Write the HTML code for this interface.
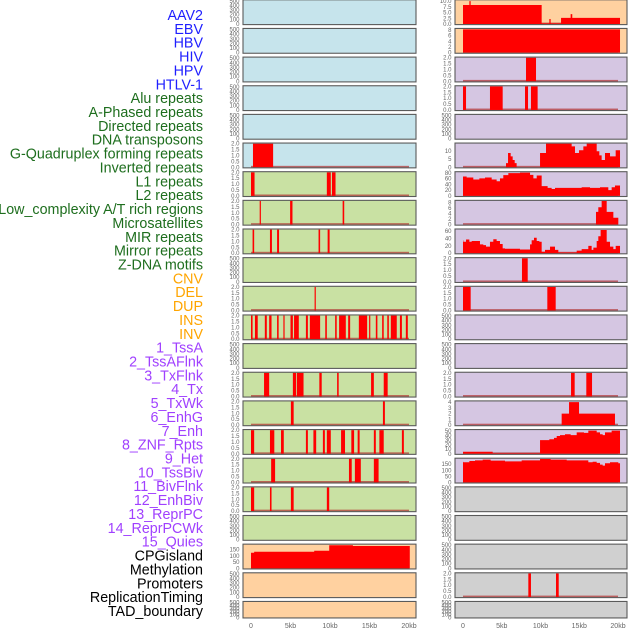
<!DOCTYPE html>
<html><head><meta charset="utf-8">
<style>
html,body{margin:0;padding:0;background:#fff;width:630px;height:630px;overflow:hidden}
svg{display:block}
</style></head>
<body>
<svg id="chart" width="630" height="630" viewBox="0 0 630 630" xmlns="http://www.w3.org/2000/svg"></svg>
<script>
// ---- labels ----
const trackLabels = ["AAV2","EBV","HBV","HIV","HPV","HTLV-1","Alu repeats","A-Phased repeats","Directed repeats","DNA transposons","G-Quadruplex forming repeats","Inverted repeats","L1 repeats","L2 repeats","Low_complexity A/T rich regions","Microsatellites","MIR repeats","Mirror repeats","Z-DNA motifs","CNV","DEL","DUP","INS","INV","1_TssA","2_TssAFlnk","3_TxFlnk","4_Tx","5_TxWk","6_EnhG","7_Enh","8_ZNF_Rpts","9_Het","10_TssBiv","11_BivFlnk","12_EnhBiv","13_ReprPC","14_ReprPCWk","15_Quies","CPGisland","Methylation","Promoters","ReplicationTiming","TAD_boundary"];
const labelGroups = ["virus","virus","virus","virus","virus","virus","repeat","repeat","repeat","repeat","repeat","repeat","repeat","repeat","repeat","repeat","repeat","repeat","repeat","sv","sv","sv","sv","sv","chrom","chrom","chrom","chrom","chrom","chrom","chrom","chrom","chrom","chrom","chrom","chrom","chrom","chrom","chrom","other","other","other","other","other"];
const xTickKb = [0,5,10,15,20];
const xTickLabels = ["0","5kb","10kb","15kb","20kb"];
const emptyTicks = [0,100,200,300,400,500];
const binaryTicks = [0,0.5,1.0,1.5,2.0];

// ---- column 1 bars (kb intervals) ----
const c1r5Bars = [[0.25,2.8]];
const c1r6Bars = [[0,0.45],[9.6,10.1],[10.25,10.7]];
const c1r7Bars = [[1.1,1.25],[4.95,5.25],[11.6,11.8]];
const c1r8Bars = [[0.2,0.4],[2.4,2.65],[3.3,3.55],[8.55,8.75],[9.7,9.95]];
const c1r10Bars = [[8.05,8.2]];
const c1r11Bars = [[0,0.2],[0.5,0.85],[1.75,2.0],[2.3,2.6],[3.3,3.5],[4.1,4.25],[5.0,5.3],[5.45,6.05],[6.95,7.2],[7.45,8.75],[9.4,9.6],[10.65,10.85],[11.15,12.0],[12.3,12.55],[13.65,14.7],[14.95,15.1],[15.8,16.0],[16.6,16.8],[17.25,17.45],[17.7,18.45],[18.85,19.1],[19.6,19.85]];
const c1r13Bars = [[1.65,2.3],[5.3,5.7],[5.8,6.65],[8.65,8.95],[10.9,11.1],[15.2,15.55],[16.8,17.3]];
const c1r14Bars = [[5.05,5.4],[16.7,16.95]];
const c1r15Bars = [[0,0.4],[2.4,2.95],[3.8,4.15],[6.95,7.2],[7.9,8.25],[9.1,9.35],[9.6,10.1],[11.4,11.9],[12.7,13.05],[13.5,13.75],[15.55,15.8],[16.25,16.8],[19.1,19.35]];
const c1r16Bars = [[2.55,3.05],[12.4,12.75],[13.15,13.9],[15.55,16.15]];
const c1r17Bars = [[0,0.4],[2.4,2.6],[5.05,5.4],[9.6,9.9]];
// column 1 step series
const c1r19Edges = [0,0.4,6.0,8.0,9.9,12.9,20.1];
const c1r19Vals = [126,134,134,142,186,180];
const c1r19Ticks = [0,50,100,150];

// ---- column 2 ----
const c2r0Edges = [0,0.82,0.99,10.15,11.14,11.31,12.65,13.89,14.1,20.26];
const c2r0Vals = [8.3,10,8.3,0.3,2.2,0.3,2.7,4.3,2.7];
const c2r0Ticks = [0,2.5,5.0,7.5,10.0];
const c2r1Edges = [0,20.26];
const c2r1Vals = [8.2];
const c2r1Ticks = [0,2,4,6,8];
const c2r2Bars = [[8.13,9.42]];
const c2r3Bars = [[0,0.39],[3.48,5.12],[8.0,8.39],[8.77,9.63]];
const c2r5Edges = [0,5.55,5.81,6.15,6.41,6.67,6.92,9.94,10.71,14.02,14.45,14.97,15.53,15.96,17.25,17.59,17.89,18.32,18.97,19.70,20.26];
const c2r5Vals = [0,2.6,8.9,6.8,4.5,2.6,0,8.9,16,13,8.9,10.6,13,16,10,7.4,4.5,8.9,6.8,10.6];
const c2r5Ticks = [0,5,10];
const c2r6Edges = [0,0.47,1.33,2.11,2.84,3.70,4.34,4.77,5.20,5.85,7.35,8.65,9.08,9.51,10.15,10.92,11.44,11.87,15.31,16.39,17.68,18.75,19.18,19.61,20.26];
const c2r6Vals = [67.6,64,57,61,64,57,51,61,72,79,81,73,61,71,34,28,24,28,30,28,30,20,30,36];
const c2r6Ticks = [0,20,40,60,80];
const c2r7Edges = [0,17.16,17.46,17.89,18.54,19.40,20.04];
const c2r7Vals = [0,4.6,6.3,8.6,4.6,2.5];
const c2r7Ticks = [0,2,4,6,8];
const c2r8Edges = [0,0.04,0.39,0.82,1.12,2.19,2.62,2.97,3.48,3.91,4.34,4.77,5.12,5.42,7.35,8.65,8.86,9.16,9.51,9.85,10.15,10.58,11.23,11.87,12.30,14.67,15.31,16.17,16.60,16.82,17.25,17.46,17.76,18.54,18.97,19.40,19.70,20.26];
const c2r8Vals = [35,31,37,31,33,24,22,18,31,38,33,25,13,12,10,24,35,42,33,31,4,9,18,9,2,7,11,20,9,15,33,46,63,31,18,11,20];
const c2r8Ticks = [0,20,40,60];
const c2r9Bars = [[7.61,8.35]];
const c2r10Bars = [[0,0.99],[10.88,11.96]];
const c2r13Bars = [[13.94,14.41],[15.91,16.65]];
const c2r14Edges = [0,12.73,13.68,14.97,19.61,20.1];
const c2r14Vals = [0,2,4,2,0];
const c2r14Ticks = [0,1,2,3,4];
const c2r15Edges = [0,3.83,9.94,11.14,11.74,12.09,12.52,13.16,13.89,14.67,15.61,16.17,17.25,17.68,18.02,18.32,19.18,20.26];
const c2r15Vals = [4.3,1.4,30,32,35,39,41,43,41,47,46,51,47,43,41,47,51];
const c2r15Ticks = [0,10,20,30,40,50];
const c2r16Edges = [0,0.04,0.82,1.55,2.54,3.57,5.42,7.57,9.94,11.31,13.38,16.17,16.73,17.25,17.68,18.02,18.32,18.97,20.04,20.26];
const c2r16Vals = [171,166,177,182,188,180,174,182,193,188,182,166,171,161,147,139,158,166,158];
const c2r16Ticks = [0,50,100,150];
const c2r20Bars = [[8.43,8.77],[12.0,12.35]];

const NS = "http://www.w3.org/2000/svg";
const svg = document.getElementById("chart");
function mk(tag, attrs, parent){
  const e = document.createElementNS(NS, tag);
  for (const k in attrs) e.setAttribute(k, attrs[k]);
  (parent||svg).appendChild(e);
  return e;
}
const groupColor = {virus:"#1f1fff", repeat:"#1e6e1e", sv:"#ffa500", chrom:"#a040ff", other:"#000"};

// left labels
trackLabels.forEach((t,i)=>{
  const el = mk("text",{x:203,y:15+i*13.86+5,"text-anchor":"end","font-family":"Liberation Sans, sans-serif","font-size":"14.3",fill:groupColor[labelGroups[i]]});
  el.textContent = t;
  
  
});

const cols = [
  {left:243,right:416,x0:251,pxPerKb:7.9},
  {left:455,right:627,x0:463,pxPerKb:7.75}
];
function rowGeom(r){ const top=-0.2+r*28.65; const h = r===21?16.5:24.8; return {top, h, bottom: top+h}; }

const BLUE="#c6e4ec", GREEN="#c9e1a3", ORANGE="#ffd1a0", LAV="#d5c6e2", GRAY="#d0d0d0";
const panels = [];
function P(col,row,name,bg,kind,a,b,ticks,dmax){ panels.push({col,row,name,bg,kind,a,b,ticks,dmax}); }
["aav2","ebv","hbv","hiv","hpv"].forEach((n,i)=>P(0,i,n,BLUE,"empty"));
P(0,5,"htlv-1",BLUE,"bars",c1r5Bars);
P(0,6,"alu-repeats",GREEN,"bars",c1r6Bars);
P(0,7,"a-phased-repeats",GREEN,"bars",c1r7Bars);
P(0,8,"directed-repeats",GREEN,"bars",c1r8Bars);
P(0,9,"dna-transposons",GREEN,"empty");
P(0,10,"g-quadruplex",GREEN,"bars",c1r10Bars);
P(0,11,"inverted-repeats",GREEN,"bars",c1r11Bars);
P(0,12,"l1-repeats",GREEN,"empty");
P(0,13,"l2-repeats",GREEN,"bars",c1r13Bars);
P(0,14,"low-complexity",GREEN,"bars",c1r14Bars);
P(0,15,"microsatellites",GREEN,"bars",c1r15Bars);
P(0,16,"mir-repeats",GREEN,"bars",c1r16Bars);
P(0,17,"mirror-repeats",GREEN,"bars",c1r17Bars);
P(0,18,"z-dna-motifs",GREEN,"empty");
P(0,19,"cnv",ORANGE,"step",c1r19Edges,c1r19Vals,c1r19Ticks,190);
P(0,20,"del",ORANGE,"empty");
P(0,21,"dup",ORANGE,"empty");
P(1,0,"ins",ORANGE,"step",c2r0Edges,c2r0Vals,c2r0Ticks,10.3);
P(1,1,"inv",ORANGE,"step",c2r1Edges,c2r1Vals,c2r1Ticks,8.3);
P(1,2,"tssa",LAV,"bars",c2r2Bars);
P(1,3,"tssaflnk",LAV,"bars",c2r3Bars);
P(1,4,"txflnk",LAV,"empty");
P(1,5,"tx",LAV,"step",c2r5Edges,c2r5Vals,c2r5Ticks,14.7);
P(1,6,"txwk",LAV,"step",c2r6Edges,c2r6Vals,c2r6Ticks,82);
P(1,7,"enhg",LAV,"step",c2r7Edges,c2r7Vals,c2r7Ticks,8.6);
P(1,8,"enh",LAV,"step",c2r8Edges,c2r8Vals,c2r8Ticks,64);
P(1,9,"znf-rpts",LAV,"bars",c2r9Bars);
P(1,10,"het",LAV,"bars",c2r10Bars);
P(1,11,"tssbiv",LAV,"empty");
P(1,12,"bivflnk",LAV,"empty");
P(1,13,"enhbiv",LAV,"bars",c2r13Bars);
P(1,14,"reprpc",LAV,"step",c2r14Edges,c2r14Vals,c2r14Ticks,4.1);
P(1,15,"reprpcwk",LAV,"step",c2r15Edges,c2r15Vals,c2r15Ticks,52);
P(1,16,"quies",LAV,"step",c2r16Edges,c2r16Vals,c2r16Ticks,195);
P(1,17,"cpgisland",GRAY,"empty");
P(1,18,"methylation",GRAY,"empty");
P(1,19,"promoters",GRAY,"empty");
P(1,20,"replication-timing",GRAY,"bars",c2r20Bars);
P(1,21,"tad-boundary",GRAY,"empty");

function fmt(v, ticks){
  const needDec = ticks.some(t=>t%1!==0);
  if (!needDec) return String(v);
  return v.toFixed(1);
}

panels.forEach(p=>{
  const c = cols[p.col], g = rowGeom(p.row);
  const xs = kb => c.x0 + kb*c.pxPerKb;
  const grp = mk("g",{});
  
  
  const bgr = mk("rect",{x:c.left,y:g.top,width:c.right-c.left,height:g.h,fill:p.bg},grp);
  
  
  let ticks, dmax;
  if (p.kind==="empty"){ ticks=emptyTicks; dmax=510; }
  else if (p.kind==="bars"){ ticks=binaryTicks; dmax=2.0; }
  else { ticks=p.ticks; dmax=p.dmax; }
  const ys = v => g.bottom - 0.6 - (v/dmax)*(g.h-1.2);
  if (p.kind!=="empty"){
    const bl = mk("rect",{x:xs(0),y:g.bottom-2,width:xs(20)-xs(0),height:1.6,fill:"#b03030","fill-opacity":"0.7"},grp);
    
    
  }
  if (p.kind==="bars"){
    p.a.forEach(iv=>{
      const r = mk("rect",{x:xs(iv[0]),y:ys(2),width:Math.max(1.2,xs(iv[1])-xs(iv[0])),height:ys(0)-ys(2),fill:"#ff0000"},grp);
      
      
    });
  } else if (p.kind==="step"){
    const edges=p.a, vals=p.b;
    let d = "M"+xs(edges[0])+","+ys(0);
    vals.forEach((v,i)=>{
      const vv=Math.min(v,dmax);
      d += " L"+xs(edges[i])+","+ys(vv)+" L"+xs(edges[i+1])+","+ys(vv);
    });
    d += " L"+xs(edges[edges.length-1])+","+ys(0)+" Z";
    const a = mk("path",{d:d,fill:"#ff0000"},grp);
    
    
  }
  const border = mk("rect",{x:c.left,y:g.top,width:c.right-c.left,height:g.h,fill:"none",stroke:"#5a5a5a","stroke-width":"1.1"},grp);
  
  
  ticks.forEach(t=>{
    const tx = mk("text",{x:c.left-3.5,y:ys(t)+2,"text-anchor":"end","font-family":"Liberation Sans, sans-serif","font-size":"6",fill:"#666"},grp);
    tx.textContent = fmt(t,ticks);
    
    
  });
});

cols.forEach((c,ci)=>{
  xTickKb.forEach((k,i)=>{
    const t = mk("text",{x:c.x0+k*c.pxPerKb,y:628,"text-anchor":"middle","font-family":"Liberation Sans, sans-serif","font-size":"7",fill:"#666"});
    t.textContent = xTickLabels[i];
    
    
  });
});
</script>
</body></html>
